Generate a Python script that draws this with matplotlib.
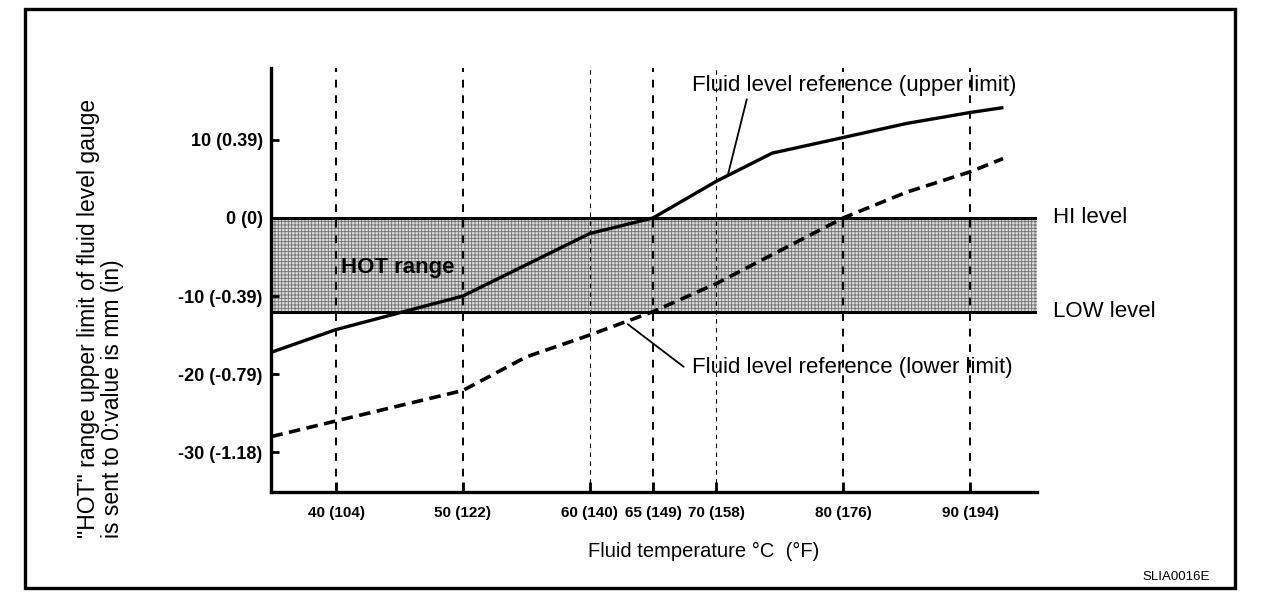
import numpy as np
import matplotlib.pyplot as plt
from matplotlib.patches import Rectangle

plt.rcParams['font.family'] = ['Liberation Sans', 'DejaVu Sans']
plt.rcParams['hatch.linewidth'] = 0.6

# data (temperature in deg C, level in mm)
upper_temp = [34.9, 40, 50, 60, 65, 70, 74.4, 80, 85, 90, 92.5]
upper_level = [-17.2, -14.3, -10.0, -2.0, 0.0, 4.7, 8.3, 10.3, 12.1, 13.5, 14.1]

lower_temp = [34.9, 40, 50, 55, 60, 65, 70, 80, 85, 90, 92.6]
lower_level = [-28.0, -26.0, -22.1, -17.8, -15.0, -12.0, -8.4, 0.0, 3.3, 5.9, 7.6]

hi_level = 0
low_level = -12

x_ticks = [40, 50, 60, 65, 70, 80, 90]
x_ticklabels = ['40 (104)', '50 (122)', '60 (140)', '65 (149)', '70 (158)', '80 (176)', '90 (194)']
thin_grid = [60, 70]
y_ticks = [10, 0, -10, -20, -30]
y_ticklabels = ['10 (0.39)', '0 (0)', '-10 (-0.39)', '-20 (-0.79)', '-30 (-1.18)']

fig = plt.figure(figsize=(12.8, 6.06), dpi=100)
ax = fig.add_axes([271/1280, 1 - 492/606, (1037 - 271)/1280, (492 - 68)/606])
ax.set_xlim(34.87, 95.28)
ax.set_ylim(-35.1, 19.2)

# HOT range band
ax.fill_between([34.87, 95.28], low_level, hi_level, facecolor='#dcdcdc',
                hatch='+++++', edgecolor='#707070', linewidth=0, zorder=1)
ax.axhline(hi_level, color='black', lw=2.2, zorder=3)
ax.axhline(low_level, color='black', lw=2.2, zorder=3)

# vertical reference lines
for t in x_ticks:
    lw = 0.8 if t in thin_grid else 1.4
    ax.axvline(t, color='black', lw=lw, ls=(0, (4, 4)), zorder=2)

ax.plot(upper_temp, upper_level, color='black', lw=2.4, zorder=4)
ax.plot(lower_temp, lower_level, color='black', lw=2.6, ls=(0, (3.2, 1.8)), zorder=4)

# leader lines and labels
ax.annotate('Fluid level reference (upper limit)', xy=(70.9, 5.5), xytext=(68.1, 16.9),
            fontsize=16, va='center', ha='left',
            arrowprops=dict(arrowstyle='-', color='black', lw=1.3,
                            shrinkA=0, shrinkB=0, relpos=(0.17, 0.0)))
ax.annotate('Fluid level reference (lower limit)', xy=(63.0, -13.6), xytext=(68.1, -19.2),
            fontsize=16, va='center', ha='left',
            arrowprops=dict(arrowstyle='-', color='black', lw=1.3,
                            shrinkA=0, shrinkB=0, relpos=(-0.027, 0.55)))

ax.text(40.4, -6.3, 'HOT range', fontsize=16, fontweight='bold', va='center', ha='left', zorder=5)
ax.text(1.021, (hi_level + 35.1) / 54.3, 'HI level', transform=ax.transAxes,
        fontsize=16, va='center', ha='left')
ax.text(1.021, (low_level + 35.1) / 54.3, 'LOW level', transform=ax.transAxes,
        fontsize=16, va='center', ha='left')

ax.set_xticks(x_ticks)
ax.set_xticklabels(x_ticklabels, fontsize=11, fontweight='bold')
ax.set_yticks(y_ticks)
ax.set_yticklabels(y_ticklabels, fontsize=13, fontweight='bold')
ax.tick_params(axis='x', direction='in', length=7, width=2, pad=10)
ax.tick_params(axis='y', direction='in', length=6, width=2, pad=6)

for s in ['top', 'right']:
    ax.spines[s].set_visible(False)
for s in ['left', 'bottom']:
    ax.spines[s].set_linewidth(2.4)

fig.text(704/1280, 1 - 551/606, 'Fluid temperature \u00b0C  (\u00b0F)', fontsize=14.5,
         ha='center', va='center')
fig.text(89/1280, 1 - 538/606, '"HOT" range upper limit of fluid level gauge',
         fontsize=16.5, rotation=90, rotation_mode='anchor', ha='left', va='center')
fig.text(113/1280, 1 - 538/606, 'is sent to 0:value is mm (in)',
         fontsize=16.5, rotation=90, rotation_mode='anchor', ha='left', va='center')
fig.text(1210/1280, 1 - 577/606, 'SLIA0016E', fontsize=9.5, ha='right', va='center')

fig.patches.append(Rectangle((25/1280, 1 - 588/606), (1235 - 25)/1280, (588 - 9)/606,
                             transform=fig.transFigure, fill=False, lw=2.4, color='black'))

fig.savefig('out.png', dpi=100)
